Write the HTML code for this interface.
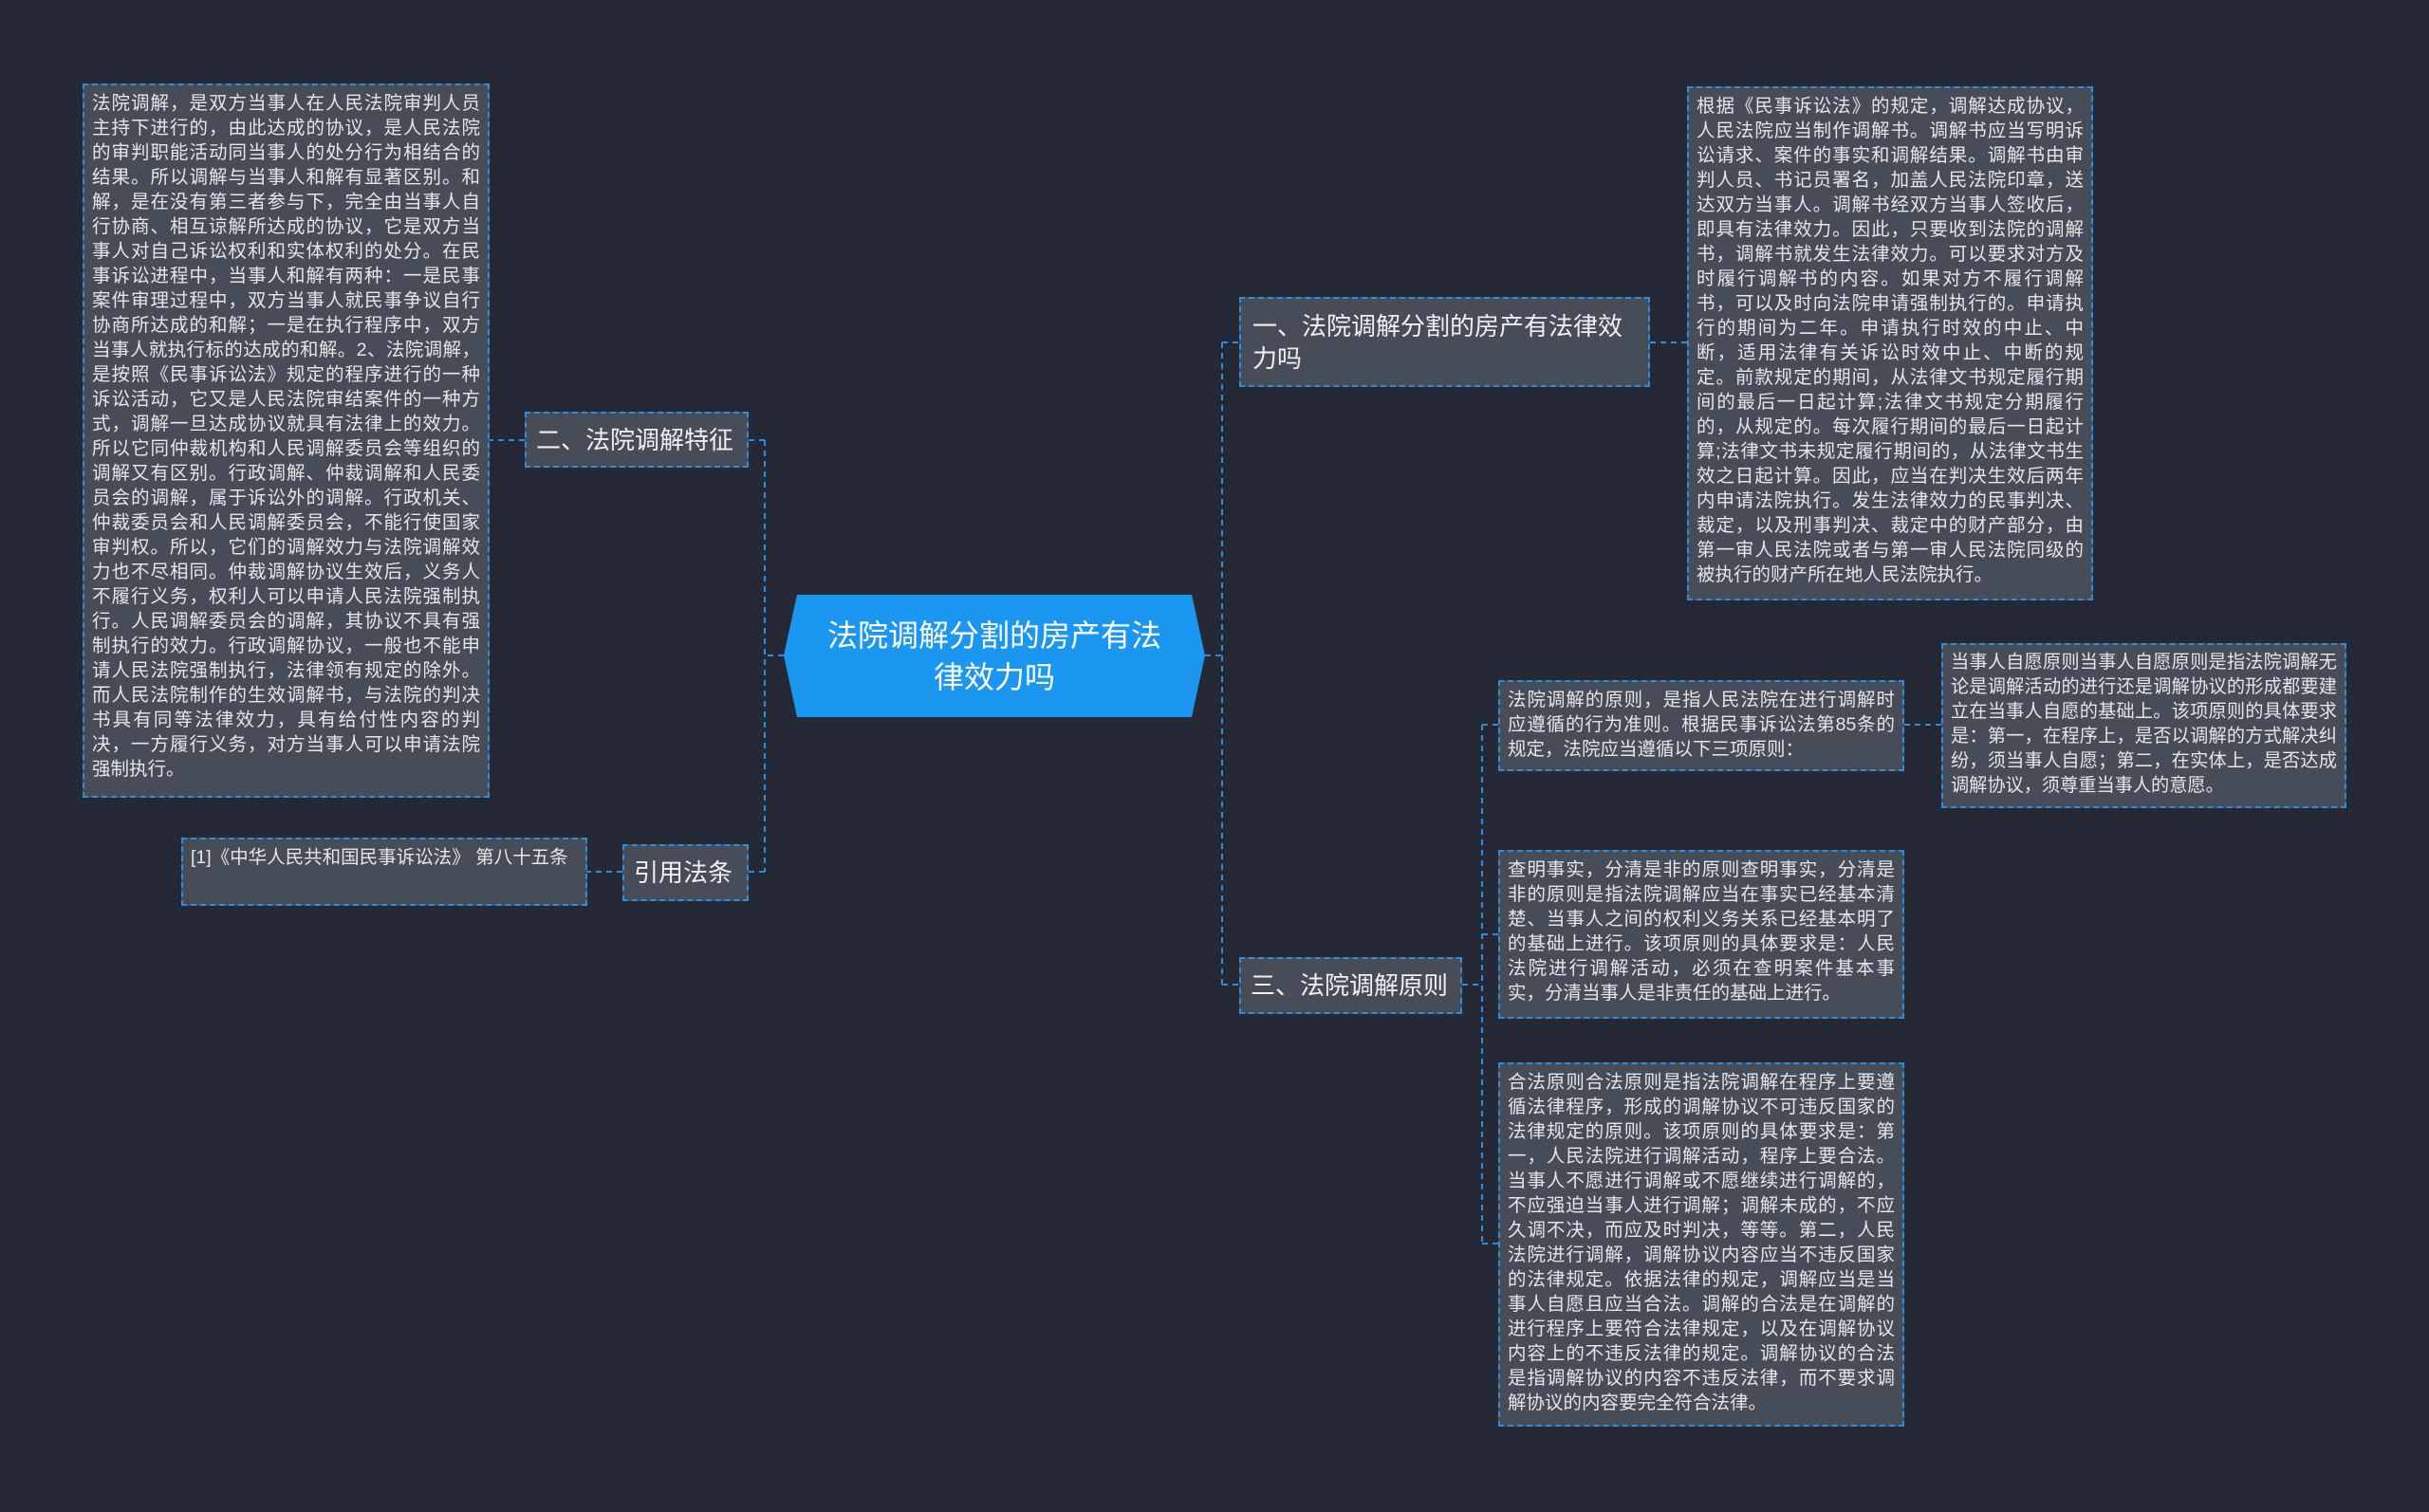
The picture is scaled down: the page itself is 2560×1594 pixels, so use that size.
<!DOCTYPE html>
<html><head><meta charset="utf-8"><style>
body{margin:0;width:2560px;height:1594px;background:#252935;overflow:hidden;font-family:"Liberation Sans","Noto Sans CJK SC",sans-serif;position:relative}
.b{position:absolute;box-sizing:border-box;background:#474c59;border:2px dashed #2f8de0;color:#e6e6e6;font-size:19.5px;line-height:26px;padding:6px 8px;text-align:justify;word-break:break-all}
.n{position:absolute;box-sizing:border-box;background:#474c59;border:2px dashed #2f8de0;color:#f0f0f0;font-size:26px;line-height:34px;padding:0 12px;display:flex;align-items:center}
.nw{white-space:nowrap;padding:0 10px}
svg{position:absolute;left:0;top:0}
</style></head><body>
<svg width="2560" height="1594"><g stroke="#2f8de0" stroke-width="2" stroke-dasharray="6,5" fill="none">
<path d="M1270 691H1288M1288 361V1038M1288 361H1306M1288 1038H1306"/>
<path d="M826 691H806M806 464V919M806 464H789M806 919H789"/>
<path d="M553 464H516M656 919H619"/>
<path d="M1739 361H1778"/>
<path d="M1541 1038H1562M1562 764V1311M1562 764H1579M1562 985H1579M1562 1311H1579M2007 764H2046"/>
</g>
<polygon points="840,627 1256,627 1270,691 1256,756 840,756 826,691" fill="#1b96f1"/>
</svg>
<div style="position:absolute;left:840px;top:627px;width:416px;height:129px;display:flex;align-items:center;justify-content:center;text-align:center;color:#fff;font-size:32px;line-height:44px">法院调解分割的房产有法<br>律效力吗</div>
<div class="n nw" style="left:553px;top:434px;width:236px;height:59px">二、法院调解特征</div>
<div class="n nw" style="left:656px;top:890px;width:133px;height:60px">引用法条</div>
<div class="n" style="left:1306px;top:313px;width:433px;height:95px">一、法院调解分割的房产有法律效力吗</div>
<div class="n nw" style="left:1306px;top:1009px;width:235px;height:60px">三、法院调解原则</div>
<div class="b" style="left:87px;top:88px;width:429px;height:753px">法院调解，是双方当事人在人民法院审判人员主持下进行的，由此达成的协议，是人民法院的审判职能活动同当事人的处分行为相结合的结果。所以调解与当事人和解有显著区别。和解，是在没有第三者参与下，完全由当事人自行协商、相互谅解所达成的协议，它是双方当事人对自己诉讼权利和实体权利的处分。在民事诉讼进程中，当事人和解有两种：一是民事案件审理过程中，双方当事人就民事争议自行协商所达成的和解；一是在执行程序中，双方当事人就执行标的达成的和解。2、法院调解，是按照《民事诉讼法》规定的程序进行的一种诉讼活动，它又是人民法院审结案件的一种方式，调解一旦达成协议就具有法律上的效力。所以它同仲裁机构和人民调解委员会等组织的调解又有区别。行政调解、仲裁调解和人民委员会的调解，属于诉讼外的调解。行政机关、仲裁委员会和人民调解委员会，不能行使国家审判权。所以，它们的调解效力与法院调解效力也不尽相同。仲裁调解协议生效后，义务人不履行义务，权利人可以申请人民法院强制执行。人民调解委员会的调解，其协议不具有强制执行的效力。行政调解协议，一般也不能申请人民法院强制执行，法律领有规定的除外。而人民法院制作的生效调解书，与法院的判决书具有同等法律效力，具有给付性内容的判决，一方履行义务，对方当事人可以申请法院强制执行。</div>
<div class="b" style="left:191px;top:883px;width:428px;height:72px">[1]《中华人民共和国民事诉讼法》 第八十五条</div>
<div class="b" style="left:1778px;top:91px;width:428px;height:542px">根据《民事诉讼法》的规定，调解达成协议，人民法院应当制作调解书。调解书应当写明诉讼请求、案件的事实和调解结果。调解书由审判人员、书记员署名，加盖人民法院印章，送达双方当事人。调解书经双方当事人签收后，即具有法律效力。因此，只要收到法院的调解书，调解书就发生法律效力。可以要求对方及时履行调解书的内容。如果对方不履行调解书，可以及时向法院申请强制执行的。申请执行的期间为二年。申请执行时效的中止、中断，适用法律有关诉讼时效中止、中断的规定。前款规定的期间，从法律文书规定履行期间的最后一日起计算;法律文书规定分期履行的，从规定的。每次履行期间的最后一日起计算;法律文书未规定履行期间的，从法律文书生效之日起计算。因此，应当在判决生效后两年内申请法院执行。发生法律效力的民事判决、裁定，以及刑事判决、裁定中的财产部分，由第一审人民法院或者与第一审人民法院同级的被执行的财产所在地人民法院执行。</div>
<div class="b" style="left:1579px;top:717px;width:428px;height:96px">法院调解的原则，是指人民法院在进行调解时应遵循的行为准则。根据民事诉讼法第85条的规定，法院应当遵循以下三项原则：</div>
<div class="b" style="left:2046px;top:678px;width:427px;height:174px;font-size:19.2px">当事人自愿原则当事人自愿原则是指法院调解无论是调解活动的进行还是调解协议的形成都要建立在当事人自愿的基础上。该项原则的具体要求是：第一，在程序上，是否以调解的方式解决纠纷，须当事人自愿；第二，在实体上，是否达成调解协议，须尊重当事人的意愿。</div>
<div class="b" style="left:1579px;top:896px;width:428px;height:178px">查明事实，分清是非的原则查明事实，分清是非的原则是指法院调解应当在事实已经基本清楚、当事人之间的权利义务关系已经基本明了的基础上进行。该项原则的具体要求是：人民法院进行调解活动，必须在查明案件基本事实，分清当事人是非责任的基础上进行。</div>
<div class="b" style="left:1579px;top:1120px;width:428px;height:384px">合法原则合法原则是指法院调解在程序上要遵循法律程序，形成的调解协议不可违反国家的法律规定的原则。该项原则的具体要求是：第一，人民法院进行调解活动，程序上要合法。当事人不愿进行调解或不愿继续进行调解的，不应强迫当事人进行调解；调解未成的，不应久调不决，而应及时判决，等等。第二，人民法院进行调解，调解协议内容应当不违反国家的法律规定。依据法律的规定，调解应当是当事人自愿且应当合法。调解的合法是在调解的进行程序上要符合法律规定，以及在调解协议内容上的不违反法律的规定。调解协议的合法是指调解协议的内容不违反法律，而不要求调解协议的内容要完全符合法律。</div>
</body></html>
